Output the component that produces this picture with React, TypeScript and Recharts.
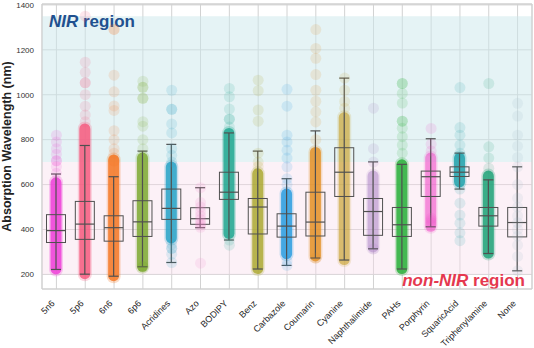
import { ComposedChart, Bar, Scatter, XAxis, YAxis, CartesianGrid, ReferenceArea } from 'recharts'

const categories = ['5n6', '5p6', '6n6', '6p6', 'Acridines', 'Azo', 'BODIPY', 'Benz', 'Carbazole', 'Coumarin', 'Cyanine', 'Naphthalimide', 'PAHs', 'Porphyrin', 'SquaricAcid', 'Triphenylamine', 'None']

// box statistics (nm)
const whiskerLow = [222, 201, 192, 234, 253, 408, 353, 224, 240, 273, 264, 314, 224, 412, 580, 293, 216]
const q1 = [342, 356, 348, 369, 445, 423, 534, 380, 366, 371, 547, 374, 369, 547, 636, 415, 367]
const median = [395, 424, 408, 434, 494, 448, 566, 500, 415, 433, 655, 480, 421, 635, 655, 461, 431]
const q3 = [466, 525, 461, 528, 580, 497, 655, 538, 470, 566, 764, 538, 498, 660, 679, 498, 498]
const whiskerHigh = [647, 774, 635, 749, 779, 586, 830, 749, 626, 839, 1074, 701, 690, 804, 740, 621, 679]

// where the individual points pile up into a solid strip
const denseLow = [222, 201, 192, 234, 360, null, 380, 224, 290, 280, 264, 320, 224, 412, 610, 293, null]
const denseHigh = [610, 850, 712, 720, 680, null, 830, 650, 560, 745, 900, 640, 690, 720, 720, 640, null]

// points lying outside the strips
const loosePoints: number[][] = [
  [650, 680, 706, 706, 735, 760, 790, 820],
  [880, 910, 949, 1000, 1053, 1053, 1100, 1145, 1350],
  [706, 706, 740, 760, 800, 840, 930, 950, 1013, 1087, 1291, 1291],
  [234, 234, 760, 800, 860, 880, 984, 984, 1033, 1033, 1060],
  [253, 290, 316, 316, 335, 700, 730, 760, 830, 870, 935, 935, 1020],
  [250, 410, 420, 430, 445, 460, 480, 500, 520, 586],
  [330, 353, 856, 891, 891, 936, 991, 1028],
  [680, 700, 740, 882, 932, 1018, 1065],
  [240, 260, 600, 626, 679, 718, 753, 790, 820, 949, 1024],
  [273, 800, 879, 924, 971, 1020, 1090, 1162, 1206, 1290],
  [940, 970, 1020, 1074],
  [314, 700, 760, 940],
  [740, 776, 813, 851, 882, 882, 963, 1006, 1050, 1050],
  [420, 430, 440, 450, 750, 780, 850],
  [350, 385, 428, 464, 517, 580, 740, 776, 820, 854, 1032],
  [673, 718, 768, 1050],
  [216, 280, 330, 370, 400, 430, 460, 500, 540, 600, 679, 721, 771, 820, 905, 962],
]

const yTicks = [200, 400, 600, 800, 1000, 1200, 1400]

const palette = ['#ee42d8', '#f6587c', '#f57a28', '#7aa82c', '#2aa5c8', '#f07ac8', '#22a892', '#a7a424', '#2e9fe0', '#e38f22', '#c8a12c', '#a57ac0', '#2bb03c', '#f050c8', '#22a3ad', '#22a57a', '#9fb6c8']
const stripAlpha = [0.85, 0.8, 0.85, 0.8, 0.85, 0, 0.85, 0.75, 0.85, 0.8, 0.6, 0.45, 0.85, 0.55, 0.85, 0.85, 0]
const FONT = '"Liberation Sans", Arial, sans-serif'

const rows = categories.map((name, i) => ({
  name,
  pos: i,
  whisker: [whiskerLow[i], whiskerHigh[i]],
  dense: denseLow[i] == null ? [median[i], median[i]] : [denseLow[i], denseHigh[i]],
  hasDense: denseLow[i] != null,
  lo: whiskerLow[i],
  q1: q1[i],
  med: median[i],
  q3: q3[i],
  hi: whiskerHigh[i],
}))

const points = loosePoints.flatMap((vals, i) => vals.map((value) => ({ pos: i, value })))

function StripShape(props: any) {
  const { x, y, width, height, payload } = props
  if (!payload.hasDense) return <g />
  const top = Math.min(y, y + height)
  const h = Math.abs(height)
  const cx = x + width / 2
  const c = palette[payload.pos]
  const a = stripAlpha[payload.pos]
  return (
    <g>
      <rect x={cx - 7} y={top - 7} width={14} height={h + 14} rx={7} fill={c} fillOpacity={a * 0.3} />
      <rect x={cx - 5.5} y={top - 5} width={11} height={h + 10} rx={5.5} fill={c} fillOpacity={a} />
    </g>
  )
}

function BoxShape(props: any) {
  const { x, y, width, height, payload } = props
  const top = Math.min(y, y + height)
  const bottom = Math.max(y, y + height)
  const cx = x + width / 2
  const toY = (v: number) => top + ((payload.hi - v) / (payload.hi - payload.lo)) * (bottom - top)
  const s = '#505050'
  return (
    <g>
      <line x1={cx} x2={cx} y1={top} y2={bottom} stroke={s} strokeWidth={1.2} />
      <line x1={cx - 5} x2={cx + 5} y1={top} y2={top} stroke={s} strokeWidth={1.2} />
      <line x1={cx - 5} x2={cx + 5} y1={bottom} y2={bottom} stroke={s} strokeWidth={1.2} />
      <rect x={cx - 9.5} y={toY(payload.q3)} width={19} height={toY(payload.q1) - toY(payload.q3)} fill="none" stroke={s} strokeWidth={1} />
      <line x1={cx - 9.5} x2={cx + 9.5} y1={toY(payload.med)} y2={toY(payload.med)} stroke={s} strokeWidth={1.2} />
    </g>
  )
}

function PointShape(props: any) {
  const { cx, cy, payload } = props
  return <circle cx={cx} cy={cy} r={5.5} fill={palette[payload.pos]} fillOpacity={0.14} />
}

function XTick(props: any) {
  const { x, y, payload } = props
  const tx = x - 1
  const ty = y + 7
  return (
    <text x={tx} y={ty} transform={`rotate(-45 ${tx} ${ty})`} textAnchor="end" fontSize={9} fill="#262626" fontFamily={FONT}>
      {payload.value}
    </text>
  )
}

function YTitle(props: any) {
  const vb = props.viewBox || { x: 0, y: 4, width: 42, height: 285 }
  const cy = vb.y + vb.height / 2
  return (
    <text x={11} y={cy} transform={`rotate(-90 11 ${cy})`} textAnchor="middle" fontSize={12.5} fontWeight="bold" fill="#222" fontFamily={FONT}>
      Absorption Wavelength (nm)
    </text>
  )
}

function NirLabel(props: any) {
  const { x, y } = props.viewBox
  return (
    <text x={x + 7} y={y + 10.5} fontSize={17} fontWeight="bold" fill="#21508f" fontFamily={FONT}>
      <tspan fontStyle="italic">NIR</tspan>
      <tspan> region</tspan>
    </text>
  )
}

function NonNirLabel(props: any) {
  const { x, y, width, height } = props.viewBox
  return (
    <text x={x + width - 7} y={y + height + 11.5} textAnchor="end" fontSize={17} fontWeight="bold" fill="#e5384f" fontFamily={FONT}>
      <tspan fontStyle="italic">non-NIR</tspan>
      <tspan> region</tspan>
    </text>
  )
}

export default function App() {
  return (
    <div style={{ position: 'absolute', left: 0, top: 0, width: 534, height: 348, background: '#fff' }}>
      <ComposedChart width={534} height={348} data={rows} margin={{ top: 4, right: 2, left: 0, bottom: 0 }}>
        <ReferenceArea y1={700} y2={1350} fill="#cbe8eb" fillOpacity={0.5} stroke="none" label={<NirLabel />} />
        <ReferenceArea y1={200} y2={700} fill="#f8dcea" fillOpacity={0.4} stroke="none" label={<NonNirLabel />} />
        <CartesianGrid stroke="#d2d2d2" strokeWidth={1} />
        <XAxis dataKey="name" type="category" height={59} tickLine={false} axisLine={false} interval={0} tick={<XTick />} />
        <XAxis xAxisId="box" dataKey="name" type="category" hide />
        <XAxis xAxisId="num" dataKey="pos" type="number" domain={[-0.5, 16.5]} hide />
        <YAxis
          width={42}
          domain={[135, 1404]}
          ticks={yTicks}
          allowDataOverflow
          tickLine={false}
          axisLine={false}
          tick={{ fontSize: 8, fill: '#333', fontFamily: FONT }}
          label={<YTitle />}
        />
        <ReferenceArea y1={135} y2={1404} fill="none" stroke="#cfcfcf" strokeWidth={1} />
        <Bar dataKey="dense" barSize={20} shape={<StripShape />} isAnimationActive={false} />
        <Scatter xAxisId="num" data={points} dataKey="value" shape={<PointShape />} isAnimationActive={false} />
        <Bar xAxisId="box" dataKey="whisker" barSize={20} shape={<BoxShape />} isAnimationActive={false} />
      </ComposedChart>
    </div>
  )
}
